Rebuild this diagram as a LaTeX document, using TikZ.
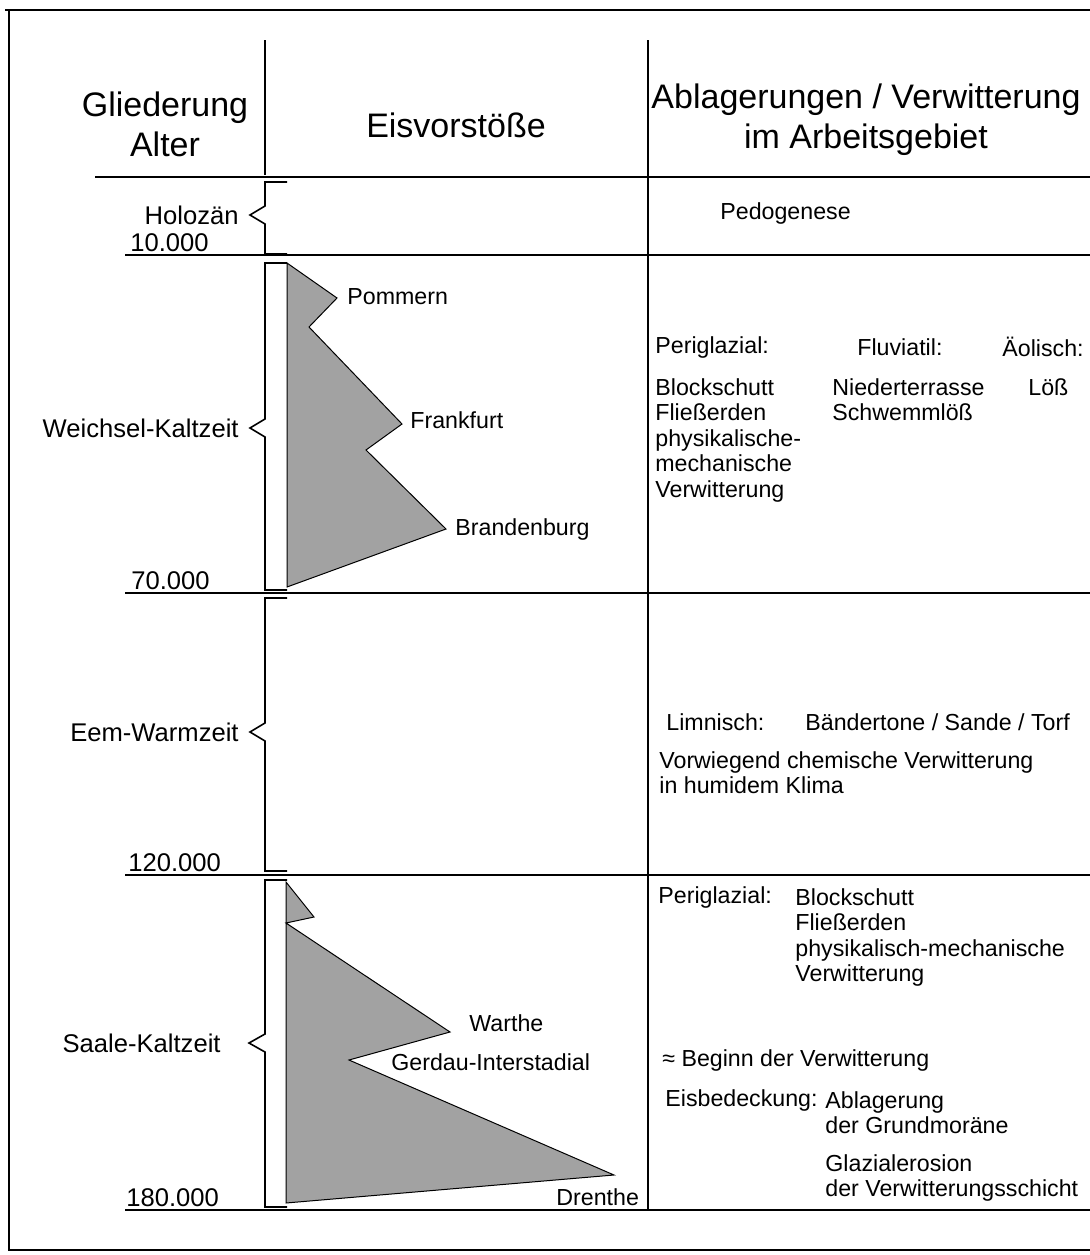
\documentclass[tikz,border=0pt]{standalone}
\usepackage{fontspec}
\setmainfont{Liberation Sans}
\usepackage{tikz}
\definecolor{eisgrau}{RGB}{162, 162, 162}

\begin{document}
\begin{tikzpicture}[x=0.5pt, y=-0.5pt,
    rule/.style={line width=0.8pt},
    klammer/.style={line width=0.8pt, line join=miter},
    vorstoss/.style={draw, line width=0.5pt, fill=eisgrau},
    txt/.style={font=\fontsize{11.6}{12.75}\selectfont, inner sep=0pt, align=left},
    zeit/.style={font=\fontsize{12.8}{14}\selectfont, inner sep=0pt},
    head/.style={font=\fontsize{17}{20}\selectfont, inner sep=0pt, align=center}]
  \useasboundingbox (0,0) rectangle (1090,1255);

  % Frame
  \draw[rule] (5,10) -- (1090,10);
  \draw[rule] (9,10) -- (9,1250) -- (1090,1250);

  % Columns and rows
  \draw[rule] (265,40) -- (265,175);
  \draw[rule] (648,40) -- (648,1210);
  \draw[rule] (95,177) -- (1090,177);
  \draw[rule] (125,255) -- (1090,255);
  \draw[rule] (125,593) -- (1090,593);
  \draw[rule] (125,875) -- (1090,875);
  \draw[rule] (125,1210) -- (1090,1210);

  % Header
  \node[head] (gliederung) at (165,124) {Gliederung\\Alter};
  \node[head] (eis) at (456,125) {Eisvorstöße};
  \node[head] (ablagerung) at (866,120) {Ablagerungen / Verwitterung\\im Arbeitsgebiet};

  % Brackets
  \draw[klammer] (287,182) -- (265,182) -- (265,206) -- (250,215) -- (265,224) -- (265,254) -- (287,254);
  \draw[klammer] (287,263) -- (265,263) -- (265,419) -- (250,428) -- (265,437) -- (265,590) -- (287,590);
  \draw[klammer] (287,598) -- (265,598) -- (265,723) -- (250,732) -- (265,741) -- (265,871) -- (287,871);
  \draw[klammer] (287,880) -- (265,880) -- (265,1034) -- (249,1043) -- (265,1052) -- (265,1207) -- (287,1207);

  % Ages
  \node[zeit, anchor=east] (holozaen) at (239,215) {Holozän};
  \node[zeit, anchor=south west] (a10) at (130,252) {10.000};
  \node[zeit, anchor=east] (weichsel) at (239,428) {Weichsel-Kaltzeit};
  \node[zeit, anchor=south west] (a70) at (131,590) {70.000};
  \node[zeit, anchor=east] (eem) at (239,732) {Eem-Warmzeit};
  \node[zeit, anchor=south west] (a120) at (128,872) {120.000};
  \node[zeit, anchor=east] (saale) at (221,1043) {Saale-Kaltzeit};
  \node[zeit, anchor=south west] (a180) at (126,1207) {180.000};

  % Weichsel ice advances
  \draw[vorstoss] (287,263) -- (337,298) -- (309,327) -- (402,424) -- (366,450)
    -- (446,529) -- (287,587) -- cycle;
  \node[txt, anchor=west] (pommern) at (347,297) {Pommern};
  \node[txt, anchor=west] (frankfurt) at (410,420) {Frankfurt};
  \node[txt, anchor=west] (brandenburg) at (455,529) {Brandenburg};

  % Saale ice advances
  \draw[vorstoss] (286,882) -- (314,917) -- (286,923) -- (450,1032) -- (349,1060)
    -- (614,1175) -- (286,1203) -- cycle;
  \node[txt, anchor=west] (warthe) at (469,1023) {Warthe};
  \node[txt, anchor=west] (gerdau) at (391,1062) {Gerdau-Interstadial};
  \node[txt, anchor=west] (drenthe) at (556,1197) {Drenthe};

  % Holozaen
  \node[txt, anchor=west] (pedo) at (720,213) {Pedogenese};

  % Weichsel
  \node[txt, anchor=west] (wperi) at (655,347) {Periglazial:};
  \node[txt, anchor=west] (wfluv) at (857,347) {Fluviatil:};
  \node[txt, anchor=west] (waeol) at (1002,347) {Äolisch:};
  \node[txt, anchor=north west] (wperitxt) at (655,378) {Blockschutt\\Fließerden\\physikalische-\\mechanische\\Verwitterung};
  \node[txt, anchor=north west] (wfluvtxt) at (832,378) {Niederterrasse\\Schwemmlöß};
  \node[txt, anchor=north west] (waeoltxt) at (1028,378) {Löß};

  % Eem
  \node[txt, anchor=west] (limn) at (666,722) {Limnisch:};
  \node[txt, anchor=west] (limntxt) at (805,722) {Bändertone / Sande / Torf};
  \node[txt, anchor=north west] (chem) at (659,751) {Vorwiegend chemische Verwitterung\\in humidem Klima};

  % Saale
  \node[txt, anchor=west] (speri) at (658,897) {Periglazial:};
  \node[txt, anchor=north west] (speritxt) at (795,888) {Blockschutt\\Fließerden\\physikalisch-mechanische\\Verwitterung};
  \node[txt, anchor=west] (beginn) at (662,1060) {≈ Beginn der Verwitterung};
  \node[txt, anchor=west] (eisbed) at (665,1100) {Eisbedeckung:};
  \node[txt, anchor=north west] (grundmor) at (825,1091) {Ablagerung\\der Grundmoräne};
  \node[txt, anchor=north west] (glazero) at (825,1154) {Glazialerosion\\der Verwitterungsschicht};
\end{tikzpicture}
\end{document}
